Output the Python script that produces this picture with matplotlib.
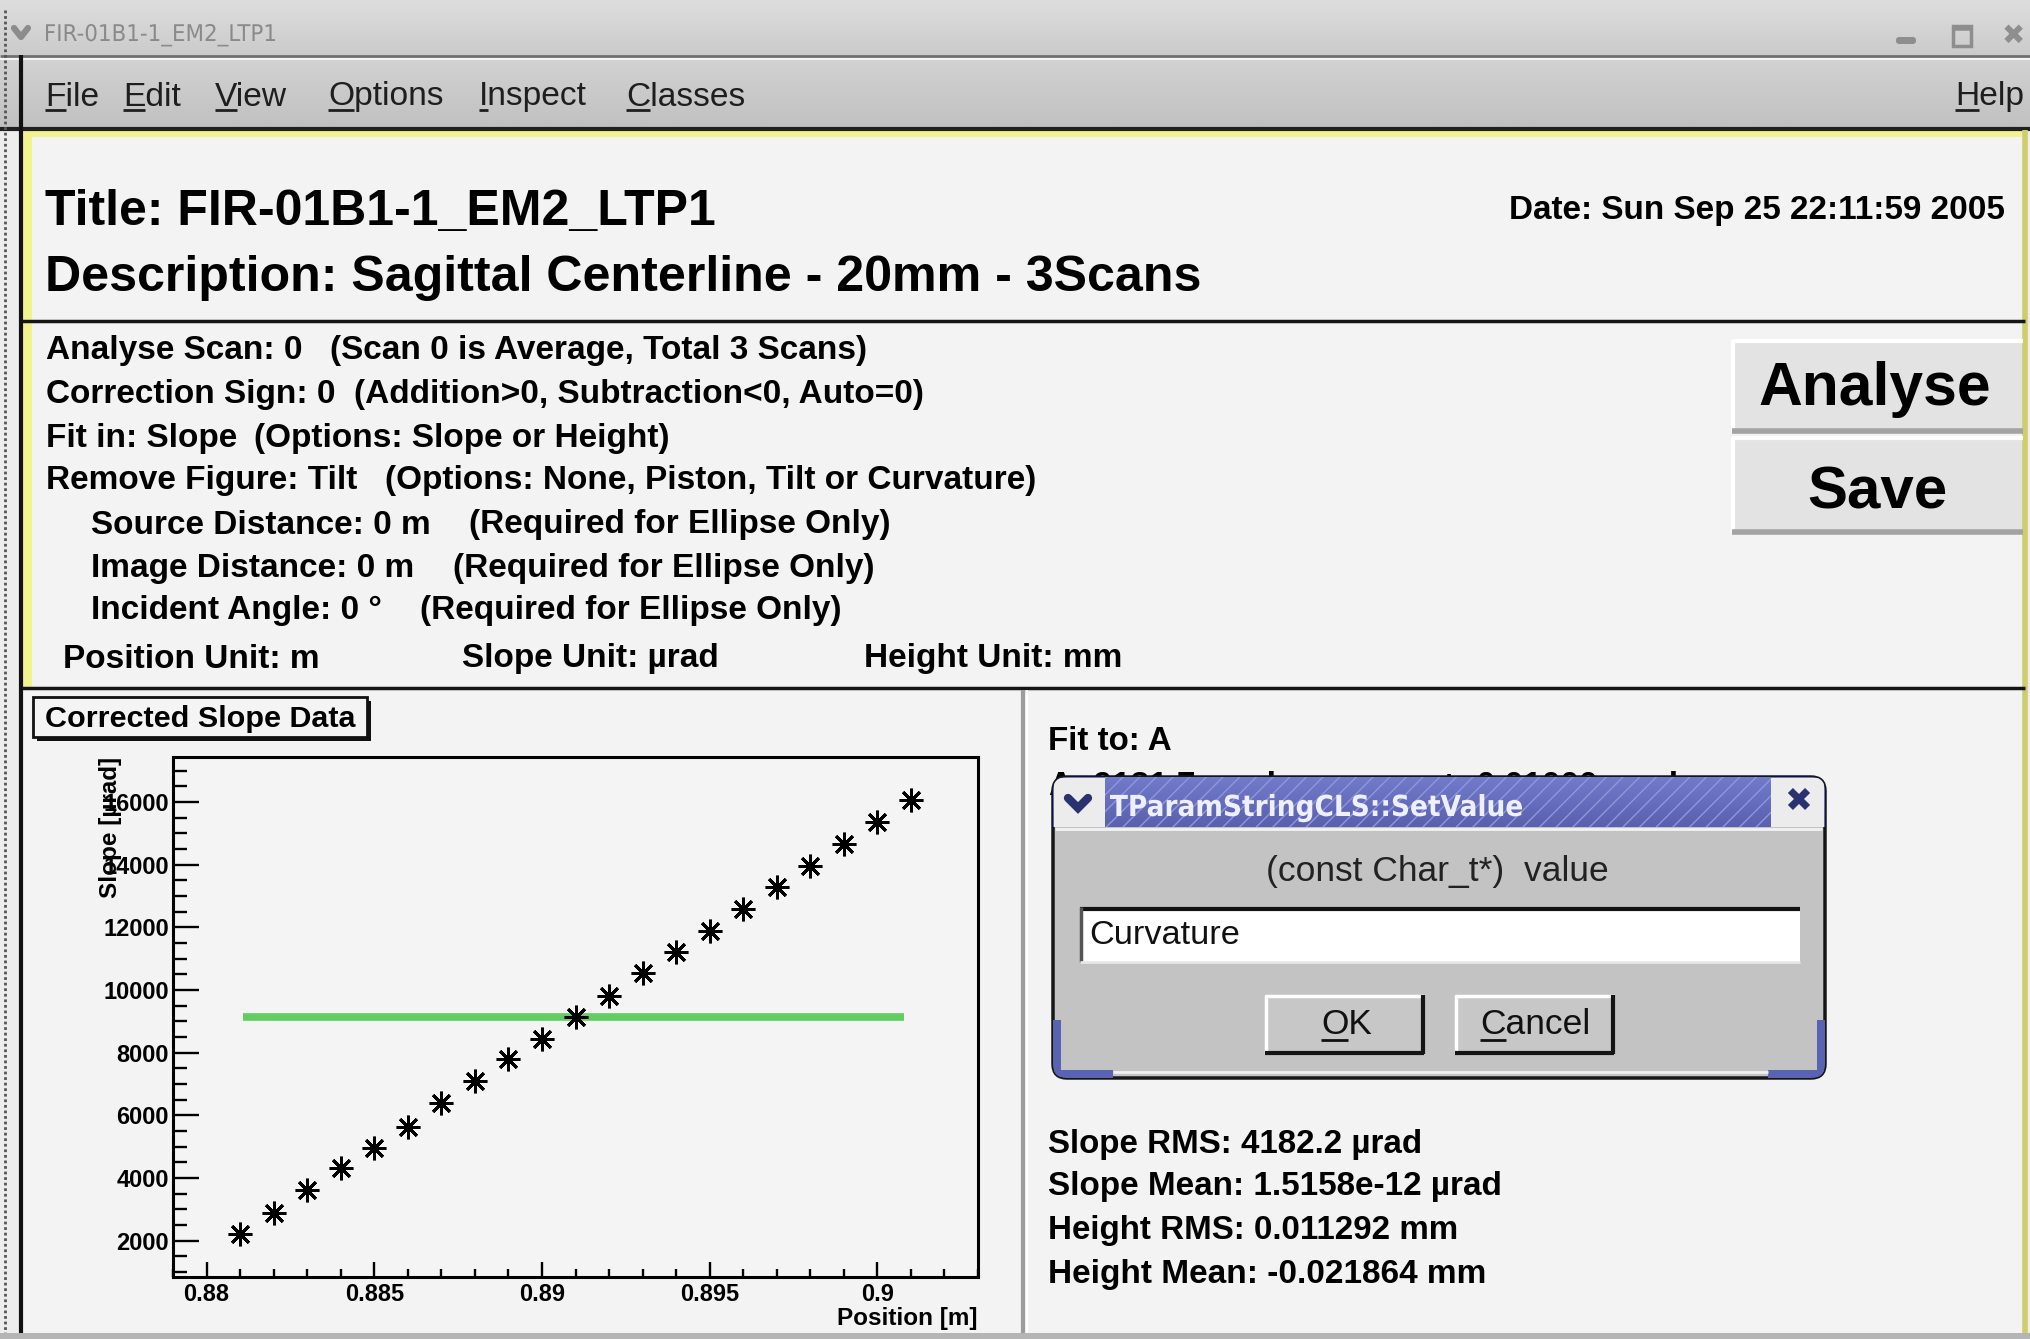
import numpy as np
import matplotlib.pyplot as plt
from matplotlib.colors import to_rgb
from matplotlib.patches import Rectangle, FancyBboxPatch, PathPatch
from matplotlib.textpath import TextPath
from matplotlib.font_manager import FontProperties
from matplotlib.transforms import Affine2D
from matplotlib.ticker import MultipleLocator, FormatStrFormatter

plt.rcParams['font.family'] = ['Liberation Sans', 'DejaVu Sans']

# corrected slope scan (scan 0 = average of 3)
position = [0.881, 0.882, 0.883, 0.884, 0.885, 0.886, 0.887, 0.888, 0.889, 0.890, 0.891,
            0.892, 0.893, 0.894, 0.895, 0.896, 0.897, 0.898, 0.899, 0.900, 0.901]
slope = [2200, 2898, 3607, 4317, 4947, 5644, 6380, 7090, 7787, 8430, 9127,
         9810, 10547, 11203, 11873, 12583, 13293, 13949, 14659, 15356, 16066]
fit_a = 9131.7
fit_from, fit_to = 0.8811, 0.9008

window_title = "FIR-01B1-1_EM2_LTP1"
menu_items = ["File", "Edit", "View", "Options", "Inspect", "Classes"]
title_line = "Title: FIR-01B1-1_EM2_LTP1"
desc_line = "Description: Sagittal Centerline - 20mm - 3Scans"
date_line = "Date: Sun Sep 25 22:11:59 2005"
settings = [
    ("Analyse Scan: 0", "(Scan 0 is Average, Total 3 Scans)"),
    ("Correction Sign: 0", "(Addition>0, Subtraction<0, Auto=0)"),
    ("Fit in: Slope", "(Options: Slope or Height)"),
    ("Remove Figure: Tilt", "(Options: None, Piston, Tilt or Curvature)"),
    ("Source Distance: 0 m", "(Required for Ellipse Only)"),
    ("Image Distance: 0 m", "(Required for Ellipse Only)"),
    ("Incident Angle: 0 \u00b0", "(Required for Ellipse Only)"),
]
units = ["Position Unit: m", "Slope Unit: \u00b5rad", "Height Unit: mm"]
stats = ["Slope RMS: 4182.2 \u00b5rad", "Slope Mean: 1.5158e-12 \u00b5rad",
         "Height RMS: 0.011292 mm", "Height Mean: -0.021864 mm"]

W, H = 2031, 1339
fig = plt.figure(figsize=(W / 100, H / 100), dpi=100)
bg = fig.add_axes([0, 0, 1, 1])
bg.set_xlim(0, W)
bg.set_ylim(H, 0)
bg.set_autoscale_on(False)
bg.axis('off')
rend = fig.canvas.get_renderer()


def shade(x0, x1, y0, y1, c0, c1, z=1, clip=None):
    g = np.linspace(0, 1, 64)[:, None, None]
    a, b = np.array(to_rgb(c0)), np.array(to_rgb(c1))
    img = a + (b - a) * g
    im = bg.imshow(img, extent=(x0, x1, y1, y0), aspect='auto', zorder=z,
                   interpolation='bilinear')
    if clip is not None:
        im.set_clip_path(clip)
    return im


def box(x0, y0, x1, y1, fc, ec='none', lw=0, z=2, **kw):
    p = Rectangle((x0, y0), x1 - x0, y1 - y0, facecolor=fc, edgecolor=ec, lw=lw, zorder=z, **kw)
    bg.add_patch(p)
    return p


def hline(x0, x1, y, c, lw, z=3):
    bg.plot([x0, x1], [y, y], color=c, lw=lw, zorder=z, solid_capstyle='butt')


def vline(x, y0, y1, c, lw, z=3):
    bg.plot([x, x], [y0, y1], color=c, lw=lw, zorder=z, solid_capstyle='butt')


def text_width(s, size, weight='bold', family='Liberation Sans', **kw):
    t = bg.text(0, 0, s, fontsize=size, fontweight=weight, family=[family, 'DejaVu Sans'], **kw)
    w = t.get_window_extent(rend).width
    t.remove()
    return w


def fit_size(s, width, weight='bold', family='Liberation Sans', **kw):
    return 20 * width / text_width(s, 20, weight, family, **kw)


def put(x0, x1, y, s, weight='bold', family='Liberation Sans', color='black', z=5, size=None, **kw):
    if size is None:
        size = fit_size(s, x1 - x0, weight, family, **kw)
    return bg.text(x0, y + 3, s, fontsize=size, fontweight=weight, family=[family, 'DejaVu Sans'],
                   color=color, va='center', zorder=z, **kw)


def narrow(x0, x1, baseline, s, em, color, weight='normal', z=5):
    # text squeezed horizontally to a given span
    tp = TextPath((0, 0), s, size=em, prop=FontProperties(family='DejaVu Sans', weight=weight))
    ext = tp.get_extents()
    sx = (x1 - x0) / ext.width
    tr = Affine2D().translate(-ext.x0, 0).scale(sx, -1).translate(x0, baseline) + bg.transData
    bg.add_patch(PathPatch(tp, transform=tr, facecolor=color, edgecolor='none', zorder=z))


# window frame, title bar and menu bar
box(0, 0, W, H, '#ededed', z=0)
shade(0, W, 0, 55, '#dedede', '#cbcbcb', z=1)
hline(0, W, 56, '#6e6e6e', 2)
hline(0, W, 58.5, '#f4f4f4', 1.5)
shade(0, W, 59, 127, '#d2d2d2', '#c1c1c1', z=1)
hline(0, W, 128.5, '#202020', 3)
bg.plot([14, 21, 28], [28, 37, 28], color='#8c8c8c', lw=4.5, zorder=4, solid_capstyle='round')
narrow(46, 275, 41, window_title, 23, '#8a8a8a')
bg.add_patch(FancyBboxPatch((1896, 37), 20, 7, boxstyle='round,pad=0,rounding_size=3',
                            fc='#8e8e8e', ec='none', zorder=4))
box(1953, 26, 1971, 46, 'none', ec='#8e8e8e', lw=2.5, z=4)
hline(1953, 1971, 28, '#8e8e8e', 4, z=4)
bg.text(2013, 36, '\u2716', fontsize=20, color='#8e8e8e', ha='center', va='center',
        family='DejaVu Sans', zorder=4)

menu_size = fit_size("Classes", 745 - 626, 'normal')
for s, x0 in zip(menu_items + ["Help"], [45, 123, 215, 328, 479, 626, 1955]):
    put(x0, None, 94, s, weight='normal', color='#1e1e1e', size=menu_size)
    hline(x0, x0 + text_width(s[0], menu_size, 'normal'), 110, '#1e1e1e', 2)

# main panel with yellow focus frame
box(22, 130, 2025, 1333, '#f3f3f3', z=1)
box(22, 130, 2025, 137, '#f3f38e', z=2)
box(22, 130, 32, 688, '#f3f38e', z=2)
vline(2025, 130, 1333, '#cdcd6a', 4)
vline(21, 55, H, '#111111', 3)
bg.plot([5, 5], [10, H], color='#555555', lw=2, dashes=(1, 1), zorder=3)
box(0, 1333, W, H, '#b5b5b5', z=3)

put(45, 715, 209, title_line)
put(45, 1201, 275, desc_line)
put(1509, 2005, 207, date_line)
hline(22, 2025, 321, '#151515', 2.5)

# analysis settings block
body_size = fit_size(settings[3][1], 1035 - 385)
settings_x = [(46, 330), (46, 354), (46, 254), (46, 385), (91, 469), (91, 453), (91, 420)]
settings_y = [347, 391, 435, 478, 522, 565, 607]
for (a, b), (xa, xb), y in zip(settings, settings_x, settings_y):
    put(xa, None, y, a, size=body_size)
    put(xb, None, y, b, size=body_size)
for s, x in zip(units, [63, 462, 864]):
    put(x, None, 656, s, size=body_size)

# Analyse / Save buttons
for (y0, y1), s, (tx0, tx1), ty in [((340, 432), "Analyse", (1758, 1990), 386),
                                       ((437, 533), "Save", (1807, 1947), 490)]:
    box(1732, y0, 2023, y1, '#e3e3e3', z=2)
    hline(1732, 2023, y0 + 1, '#ffffff', 3)
    vline(1733, y0, y1, '#ffffff', 3)
    hline(1732, 2023, y1 - 1.5, '#a3a3a3', 4)
    put(tx0, tx1, ty, s)

hline(22, 2025, 688, '#151515', 2.5)
vline(1023, 690, 1333, '#9c9c9c', 3)
vline(1026.5, 690, 1333, '#ffffff', 1.5)

# plot title box
box(37, 701, 371, 741, '#111111', z=3)
box(33, 697, 367, 737, '#f4f4f4', ec='#111111', lw=2, z=4)
put(45, 355, 716, "Corrected Slope Data", z=6)

# right-hand results panel
put(1048, 1172, 738, "Fit to: A")
put(1049, None, 783, f"A: {fit_a:.1f} \u00b5rad", size=body_size, z=5)
put(1440, None, 783, "\u00b1  0.01000 \u00b5rad", size=body_size, z=5)
for s, y, x1 in zip(stats, [1142, 1184, 1228, 1272], [1423, 1502, 1459, 1485]):
    put(1048, x1, y, s)

# parameter dialog on top
dlg = FancyBboxPatch((1053, 777), 772, 301, boxstyle='round,pad=0,rounding_size=14',
                     facecolor='#c3c3c3', edgecolor='#161616', lw=2.5, zorder=20)
bg.add_patch(dlg)
shade(1053, 1825, 777, 827, '#727bcb', '#5960ae', z=21, clip=dlg)
hatch = box(1105, 777, 1771, 827, 'none', ec='#8f97dd', lw=0, z=22, hatch='//')
hatch.set_clip_path(dlg)
box(1054, 778, 1105, 827, '#ececec', z=23).set_clip_path(dlg)
box(1771, 778, 1824, 827, '#ececec', z=23).set_clip_path(dlg)
hline(1055, 1822, 829, '#f2f2f2', 2, z=23)
bg.plot([1068, 1078, 1088], [798, 808, 798], color='#2b3270', lw=6, zorder=24,
        solid_capstyle='round', solid_joinstyle='miter')
bg.text(1798, 802, '\u2716', fontsize=24, color='#2b3270', ha='center', va='center',
        family='DejaVu Sans', zorder=24)
narrow(1110, 1522, 816, "TParamStringCLS::SetValue", 29, '#eef0ff', weight='bold', z=24)
for p in [box(1053, 1020, 1061, 1079, '#5a62b2', z=21), box(1053, 1070, 1113, 1079, '#5a62b2', z=21),
          box(1817, 1020, 1826, 1079, '#5a62b2', z=21), box(1768, 1070, 1826, 1079, '#5a62b2', z=21)]:
    p.set_clip_path(dlg)
hline(1113, 1768, 1072, '#f0f0f0', 2, z=22)
put(1266, 1608, 869, "(const Char_t*)  value", weight='normal', color='#222222', z=24)

box(1080, 907, 1800, 962, '#ffffff', z=22)
hline(1080, 1800, 908.5, '#111111', 3, z=23)
vline(1081, 907, 962, '#555555', 2.5, z=23)
hline(1080, 1800, 962, '#e8e8e8', 2, z=23)
put(1089, 1239, 933, "Curvature", weight='normal', color='#111111', z=24)

for (x0, x1), s, (tx0, tx1) in [((1265, 1424), "OK", (1321, 1372)),
                                 ((1455, 1614), "Cancel", (1480, 1590))]:
    box(x0, 995, x1, 1054, '#c7c7c7', z=22)
    hline(x0, x1, 996, '#ffffff', 2.5, z=23)
    vline(x0 + 1, 995, 1054, '#ffffff', 2.5, z=23)
    hline(x0, x1, 1053, '#151515', 3, z=23)
    vline(x1 - 1, 995, 1054, '#151515', 3, z=23)
    t = put(tx0, tx1, 1022, s, weight='normal', color='#111111', z=24)
    hline(tx0, tx0 + text_width(s[0], t.get_fontsize(), 'normal'), 1040, '#111111', 2, z=24)

# slope plot
ax = fig.add_axes([173 / W, (H - 1277) / H, (978 - 173) / W, (1277 - 757) / H])
ax.set_facecolor('#f4f4f4')
ax.plot([fit_from, fit_to], [fit_a, fit_a], color='#62cd62', lw=5.5,
        solid_capstyle='butt', zorder=2)
ax.plot(position, slope, ls='none', marker=(8, 2, 0), ms=17, mew=2.1,
        color='black', zorder=3)
ax.set_xlim(0.879, 0.903)
ax.set_ylim(840, 17440)
for sp in ax.spines.values():
    sp.set_linewidth(2.2)
ax.xaxis.set_major_locator(MultipleLocator(0.005))
ax.xaxis.set_minor_locator(MultipleLocator(0.001))
ax.xaxis.set_major_formatter(FormatStrFormatter('%g'))
ax.yaxis.set_major_locator(MultipleLocator(2000))
ax.yaxis.set_minor_locator(MultipleLocator(500))
ax.yaxis.set_major_formatter(FormatStrFormatter('%d'))
ax.tick_params(axis='y', which='major', direction='in', length=19, width=1.7,
               labelsize=17, pad=3)
ax.tick_params(axis='y', which='minor', direction='in', length=10, width=1.7)
ax.tick_params(axis='x', which='major', direction='in', length=11, width=1.7,
               labelsize=17, pad=4)
ax.tick_params(axis='x', which='minor', direction='in', length=6, width=1.7)
for lbl in ax.get_xticklabels() + ax.get_yticklabels():
    lbl.set_fontweight('bold')
ax.set_xlabel("Position [m]", loc='right', fontsize=17.5, fontweight='bold')
ax.xaxis.set_label_coords(1.0, -0.058)
ax.set_ylabel("Slope [\u00b5rad]", loc='top', fontsize=17.5, fontweight='bold')
ax.yaxis.set_label_coords(-0.063, 1.0)

fig.savefig('out.png', dpi=100)
